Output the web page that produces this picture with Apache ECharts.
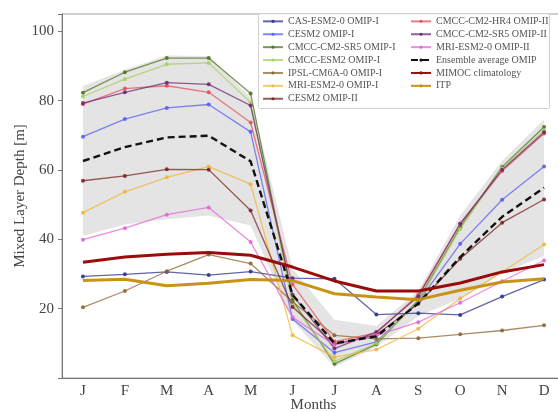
<!DOCTYPE html>
<html>
<head>
<meta charset="utf-8">
<script src="https://cdn.jsdelivr.net/npm/echarts@6/dist/echarts.min.js"></script>
<style>
  html, body { margin: 0; padding: 0; background: #fff; }
  #chart { width: 558px; height: 412px; }
</style>
</head>
<body>
<div id="chart"></div>
<script>
// Monthly mixed layer depth (m)
const monthTicks = ['J', 'F', 'M', 'A', 'M', 'J', 'J', 'A', 'S', 'O', 'N', 'D'];
const yTicks = [20, 40, 60, 80, 100];

const casEsm2Omip1   = [29.3, 29.9, 30.6, 29.7, 30.7, 28.8, 28.6, 18.3, 18.7, 18.2, 23.5, 28.4];
const cesm2Omip1     = [69.6, 74.7, 77.9, 78.9, 71.0, 17.0, 7.3, 10.4, 22.0, 38.7, 51.4, 61.0];
const cmccSr5Omip1   = [82.3, 88.2, 92.3, 92.3, 82.1, 22.5, 4.1, 9.7, 22.5, 43.5, 60.9, 72.4];
const cmccEsm2Omip1  = [81.2, 86.2, 90.5, 90.9, 79.5, 21.5, 4.8, 10.0, 22.0, 43.0, 60.5, 71.5];
const ipslOmip1      = [20.4, 25.1, 30.8, 35.6, 33.0, 22.0, 12.3, 11.3, 11.5, 12.6, 13.7, 15.2];
const mriOmip1       = [47.7, 53.7, 57.9, 61.0, 55.9, 12.3, 6.0, 8.2, 14.2, 22.9, 30.6, 38.5];
const cesm2Omip2     = [56.9, 58.3, 60.2, 60.1, 48.3, 20.5, 9.8, 12.5, 21.4, 34.4, 44.8, 51.5];
const cmccHr4Omip2   = [79.0, 83.5, 84.3, 82.4, 73.7, 27.0, 10.5, 13.0, 24.0, 44.5, 59.7, 70.5];
const cmccSr5Omip2   = [79.3, 82.4, 85.2, 84.7, 78.6, 24.0, 8.5, 13.3, 23.5, 44.5, 60.1, 70.9];
const mriOmip2       = [39.9, 43.2, 47.1, 49.2, 39.2, 17.5, 9.5, 12.3, 16.1, 21.7, 27.9, 33.9];
const ensembleOmip   = [62.6, 66.6, 69.4, 69.9, 62.5, 24.0, 10.0, 12.0, 21.5, 34.9, 46.5, 54.9];
const ensembleSpread = [21.6, 22.3, 23.6, 23.0, 18.5, 7.5, 6.8, 3.0, 3.7, 12.0, 16.2, 19.7];
const mimocClim      = [33.4, 34.9, 35.7, 36.2, 35.4, 32.0, 28.0, 25.1, 25.1, 27.4, 30.6, 32.7];
const itpClim        = [28.1, 28.5, 26.6, 27.3, 28.4, 28.1, 24.3, 23.4, 22.6, 25.3, 27.7, 28.6];

const FONT = 'Liberation Serif';

function model(name, data, color) {
  return {
    name: name,
    type: 'line',
    data: data,
    symbol: 'circle',
    symbolSize: 4,
    z: 3,
    lineStyle: { width: 1.3, color: color, opacity: 0.75 },
    itemStyle: { color: color, opacity: 0.9 },
    emphasis: { disabled: true }
  };
}

const bandLow = ensembleOmip.map((v, i) => v - ensembleSpread[i]);
const bandWidth = ensembleSpread.map(s => 2 * s);

const series = [
  {
    name: 'band-low', type: 'line', data: bandLow, stack: 'band',
    symbol: 'none', lineStyle: { opacity: 0 }, silent: true, z: 1
  },
  {
    name: 'band', type: 'line', data: bandWidth, stack: 'band',
    symbol: 'none', lineStyle: { opacity: 0 }, silent: true, z: 1,
    areaStyle: { color: '#d4d4d4', opacity: 0.62 }
  },
  model('CAS-ESM2-0 OMIP-I', casEsm2Omip1, '#2e3388'),
  model('CESM2 OMIP-I', cesm2Omip1, '#5b5ef0'),
  model('CMCC-CM2-SR5 OMIP-I', cmccSr5Omip1, '#4f7420'),
  model('CMCC-ESM2 OMIP-I', cmccEsm2Omip1, '#a6d05a'),
  model('IPSL-CM6A-0 OMIP-I', ipslOmip1, '#8e6630'),
  model('MRI-ESM2-0 OMIP-I', mriOmip1, '#f2b53a'),
  model('CESM2 OMIP-II', cesm2Omip2, '#7e2222'),
  model('CMCC-CM2-HR4 OMIP-II', cmccHr4Omip2, '#e4505e'),
  model('CMCC-CM2-SR5 OMIP-II', cmccSr5Omip2, '#6e2a6e'),
  model('MRI-ESM2-0 OMIP-II', mriOmip2, '#e466d6'),
  {
    name: 'Ensemble average OMIP', type: 'line', data: ensembleOmip,
    symbol: 'none', z: 4,
    lineStyle: { width: 2.4, color: '#111', type: [7, 4] },
    itemStyle: { color: '#111' }
  },
  {
    name: 'MIMOC climatology', type: 'line', data: mimocClim,
    symbol: 'none', z: 5,
    lineStyle: { width: 3, color: '#9a0c0c' },
    itemStyle: { color: '#9a0c0c' }
  },
  {
    name: 'ITP', type: 'line', data: itpClim,
    symbol: 'none', z: 5,
    lineStyle: { width: 3, color: '#c68d0c', opacity: 0.95 },
    itemStyle: { color: '#c68d0c' }
  }
];

const legendCommon = {
  orient: 'vertical',
  itemWidth: 20,
  itemHeight: 4,
  itemGap: 1.2,
  itemTextGap: 7,
  padding: 0,
  selectedMode: false,
  textStyle: { fontFamily: FONT, fontSize: 10, color: '#555', lineHeight: 11.7 }
};

const chart = echarts.init(document.getElementById('chart'), null, { renderer: 'canvas' });
chart.setOption({
  animation: false,
  backgroundColor: '#fff',
  grid: {
    left: 62, top: 14, width: 503, height: 364,
    outerBoundsMode: 'none',
    containLabel: false,
    show: true, borderColor: '#a0a0a0', borderWidth: 1, backgroundColor: 'transparent'
  },
  graphic: [{
    type: 'rect', z: 90,
    shape: { x: 258.5, y: 13.5, width: 291, height: 95, r: 2 },
    style: { fill: 'rgba(255,255,255,0.85)', stroke: '#d0d0d0', lineWidth: 1 }
  }],
  legend: [
    Object.assign({}, legendCommon, {
      left: 262, top: 15.5, z: 100,
      data: ['CAS-ESM2-0 OMIP-I', 'CESM2 OMIP-I', 'CMCC-CM2-SR5 OMIP-I', 'CMCC-ESM2 OMIP-I',
             'IPSL-CM6A-0 OMIP-I', 'MRI-ESM2-0 OMIP-I', 'CESM2 OMIP-II']
    }),
    Object.assign({}, legendCommon, {
      left: 410, top: 15.5, z: 100,
      data: ['CMCC-CM2-HR4 OMIP-II', 'CMCC-CM2-SR5 OMIP-II', 'MRI-ESM2-0 OMIP-II',
             'Ensemble average OMIP', 'MIMOC climatology', 'ITP']
    })
  ],
  xAxis: {
    type: 'category',
    data: monthTicks,
    boundaryGap: true,
    name: 'Months',
    nameLocation: 'middle',
    nameGap: 20,
    nameMoveOverlap: false,
    nameTextStyle: { fontFamily: FONT, fontSize: 15, color: '#444' },
    axisLine: { lineStyle: { color: '#777', width: 1 } },
    axisTick: { alignWithLabel: true, length: 4, lineStyle: { color: '#777' } },
    axisLabel: { fontFamily: FONT, fontSize: 15, color: '#444', margin: 6, interval: 0 },
    splitLine: { show: false }
  },
  yAxis: {
    type: 'value',
    min: 0, max: 105, interval: 20,
    name: 'Mixed Layer Depth [m]',
    nameLocation: 'middle',
    nameGap: 34,
    nameMoveOverlap: false,
    nameTextStyle: { fontFamily: FONT, fontSize: 15, color: '#444' },
    axisLine: { show: true, lineStyle: { color: '#777', width: 1 } },
    axisTick: { show: true, length: 4, lineStyle: { color: '#777' } },
    axisLabel: {
      fontFamily: FONT, fontSize: 15, color: '#444', margin: 8,
      formatter: v => (yTicks.indexOf(v) >= 0 ? String(v) : '')
    },
    splitLine: { show: false }
  },
  series: series
});
</script>
</body>
</html>
